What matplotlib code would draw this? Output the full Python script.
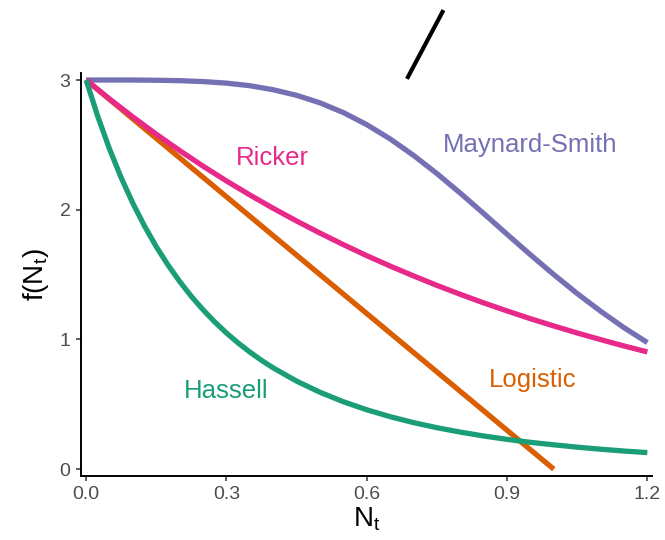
import matplotlib
matplotlib.use("Agg")
import matplotlib.pyplot as plt

plt.rcParams['font.family'] = ['Liberation Sans', 'DejaVu Sans']
plt.rcParams['mathtext.default'] = 'regular'

# Data
N = [0.0, 0.05, 0.10, 0.15, 0.20, 0.25, 0.30, 0.35, 0.40, 0.45, 0.50, 0.55,
     0.60, 0.65, 0.70, 0.75, 0.80, 0.85, 0.90, 0.95, 1.00, 1.05, 1.10, 1.15, 1.20]
hassell_N = [0.0, 0.025, 0.05, 0.075, 0.10, 0.125, 0.15, 0.175, 0.20, 0.225, 0.25,
             0.275, 0.30, 0.325, 0.35, 0.375, 0.40, 0.45, 0.50, 0.55, 0.60, 0.65,
             0.70, 0.75, 0.80, 0.85, 0.90, 0.95, 1.00, 1.05, 1.10, 1.15, 1.20]
hassell = [3.000, 2.718, 2.468, 2.246, 2.049, 1.873, 1.715, 1.574, 1.447, 1.332, 1.229,
           1.135, 1.050, 0.973, 0.903, 0.839, 0.781, 0.679, 0.593, 0.520, 0.458, 0.405,
           0.359, 0.320, 0.286, 0.256, 0.230, 0.207, 0.188, 0.170, 0.154, 0.140, 0.128]
ricker = [3.000, 2.854, 2.715, 2.582, 2.456, 2.336, 2.222, 2.114, 2.011, 1.913,
          1.820, 1.731, 1.646, 1.566, 1.490, 1.417, 1.348, 1.282, 1.220, 1.160,
          1.104, 1.050, 0.999, 0.950, 0.904]
maynard_smith = [3.000, 3.000, 3.000, 2.998, 2.995, 2.988, 2.976, 2.956, 2.925, 2.882,
                 2.824, 2.749, 2.656, 2.546, 2.419, 2.279, 2.128, 1.971, 1.811, 1.653,
                 1.500, 1.354, 1.218, 1.091, 0.976]
logistic_N = [0.0, 1.0]
logistic = [3.0, 0.0]

seg_x = [0.686, 0.764]
seg_y = [3.009, 3.539]

labels = ["Ricker", "Maynard-Smith", "Logistic", "Hassell"]
label_x = [0.398, 0.950, 0.954, 0.300]
label_y = [2.40, 2.50, 0.69, 0.60]

colors = {"Hassell": "#1B9E77", "Logistic": "#D95F02",
          "Maynard-Smith": "#7570B3", "Ricker": "#E7298A"}

xticks = [0.0, 0.3, 0.6, 0.9, 1.2]
xticklabels = ["0.0", "0.3", "0.6", "0.9", "1.2"]
yticks = [0, 1, 2, 3]

fig = plt.figure(figsize=(6.65, 5.4), dpi=100)
ax = fig.add_axes([0.1218, 0.1191, 0.9805 - 0.1218, 0.8648 - 0.1191])

lw = 3.8
ax.plot(N, maynard_smith, color=colors["Maynard-Smith"], lw=lw, solid_capstyle='butt')
ax.plot(logistic_N, logistic, color=colors["Logistic"], lw=lw, solid_capstyle='butt')
ax.plot(N, ricker, color=colors["Ricker"], lw=lw, solid_capstyle='butt')
ax.plot(hassell_N, hassell, color=colors["Hassell"], lw=lw, solid_capstyle='butt')

ax.plot(seg_x, seg_y, color='black', lw=3.0, solid_capstyle='butt', clip_on=False)

for lab, x, y in zip(labels, label_x, label_y):
    ax.text(x, y, lab, color=colors[lab], fontsize=18.5, ha='center', va='center')

ax.set_xlim(-0.011, 1.21)
ax.set_ylim(-0.05, 3.054)
ax.set_xticks(xticks)
ax.set_xticklabels(xticklabels)
ax.set_yticks(yticks)

for s in ['top', 'right']:
    ax.spines[s].set_visible(False)
for s in ['left', 'bottom']:
    ax.spines[s].set_linewidth(1.4)
    ax.spines[s].set_color('black')

ax.tick_params(axis='both', length=3.5, width=1.1, color='#333333',
               labelsize=14, labelcolor='#4D4D4D', pad=4)

ax.set_xlabel(r'$\mathregular{N_t}$', fontsize=20, labelpad=2)
ax.set_ylabel(r'$\mathregular{f(N_t)}$', fontsize=20, labelpad=6)

fig.savefig("out.png", dpi=100)
